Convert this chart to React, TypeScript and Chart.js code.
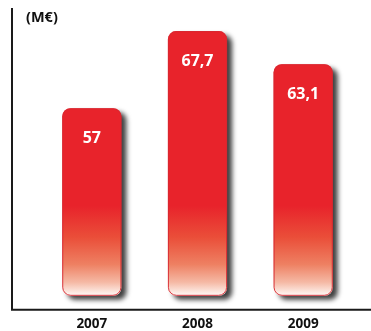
import React, { useEffect, useRef } from "react";
import { Chart, registerables } from "chart.js";

Chart.register(...registerables);

const years = ["2007", "2008", "2009"];
const revenue = [57, 67.7, 63.1];
const valueLabels = ["57", "67,7", "63,1"];
const unitLabel = "(M€)";

const FONT = "'Open Sans', 'Liberation Sans', sans-serif";
const BAR_BASE = 31;

export default function App() {
  const ref = useRef<HTMLCanvasElement | null>(null);

  useEffect(() => {
    document.body.style.margin = "0";
    const canvas = ref.current!;
    const decor = {
      id: "decor",
      beforeDatasetsDraw(chart: any) {
        const ctx = chart.ctx;
        ctx.save();
        ctx.shadowColor = "rgba(0,0,0,0.75)";
        ctx.shadowBlur = 5;
        ctx.shadowOffsetX = 5;
        ctx.shadowOffsetY = 4;
      },
      afterDatasetsDraw(chart: any) {
        const ctx = chart.ctx;
        ctx.restore();
        const meta = chart.getDatasetMeta(0);
        const ca = chart.chartArea;
        meta.data.forEach((bar: any, i: number) => {
          const w = bar.width;
          ctx.save();
          ctx.strokeStyle = "rgba(215,40,50,0.9)";
          ctx.lineWidth = 1;
          ctx.beginPath();
          ctx.roundRect(bar.x - w / 2 + 0.5, bar.y + 0.5, w - 1, bar.base - bar.y - 1, 8);
          ctx.stroke();
          ctx.fillStyle = "#ffffff";
          ctx.font = `bold 16px ${FONT}`;
          ctx.textAlign = "center";
          ctx.textBaseline = "middle";
          ctx.fillText(valueLabels[i], bar.x, bar.y + 30);
          ctx.restore();
        });
        ctx.save();
        ctx.strokeStyle = "#1a1a1a";
        ctx.lineWidth = 2;
        ctx.beginPath();
        ctx.moveTo(12, 8);
        ctx.lineTo(12, ca.bottom);
        ctx.lineTo(chart.width, ca.bottom);
        ctx.stroke();
        ctx.fillStyle = "#111";
        ctx.font = `bold 14.5px ${FONT}`;
        ctx.textAlign = "left";
        ctx.textBaseline = "middle";
        ctx.fillText(unitLabel, 26, 18);
        ctx.restore();
      },
    };

    const chart = new Chart(canvas, {
      type: "bar",
      data: {
        labels: years,
        datasets: [
          {
            data: revenue,
            base: BAR_BASE,
            borderWidth: 0,
            borderRadius: 8,
            borderSkipped: false,
            barPercentage: 0.56,
            categoryPercentage: 1,
            backgroundColor: (c: any) => {
              const ch = c.chart;
              const ctx = ch.ctx;
              const ca = ch.chartArea;
              if (!ca) return "#e8232b";
              const base = ch.scales.y.getPixelForValue(BAR_BASE);
              const g = ctx.createLinearGradient(0, base - 90, 0, base);
              g.addColorStop(0, "rgb(232,35,43)");
              g.addColorStop(0.35, "rgb(234,78,57)");
              g.addColorStop(0.65, "rgb(238,128,98)");
              g.addColorStop(0.85, "rgb(245,185,165)");
              g.addColorStop(1, "rgb(255,250,248)");
              return g;
            },
          },
        ],
      },
      options: {
        animation: false,
        responsive: false,
        maintainAspectRatio: false,
        layout: { padding: { left: 39, right: 15, top: 8, bottom: -7 } },
        plugins: { legend: { display: false }, tooltip: { enabled: false } },
        scales: {
          y: { display: false, min: 29.06, max: 70.9 },
          x: {
            grid: { display: false, drawTicks: false },
            border: { display: false },
            ticks: {
              color: "#111",
              padding: 6,
              font: { family: FONT, size: 13.5, weight: "bold" },
            },
          },
        },
      },
      plugins: [decor],
    });
    return () => chart.destroy();
  }, []);

  return (
    <div style={{ position: "fixed", left: 0, top: 0, width: 371, height: 331, background: "#fff" }}>
      <canvas ref={ref} width={371} height={331} />
    </div>
  );
}
